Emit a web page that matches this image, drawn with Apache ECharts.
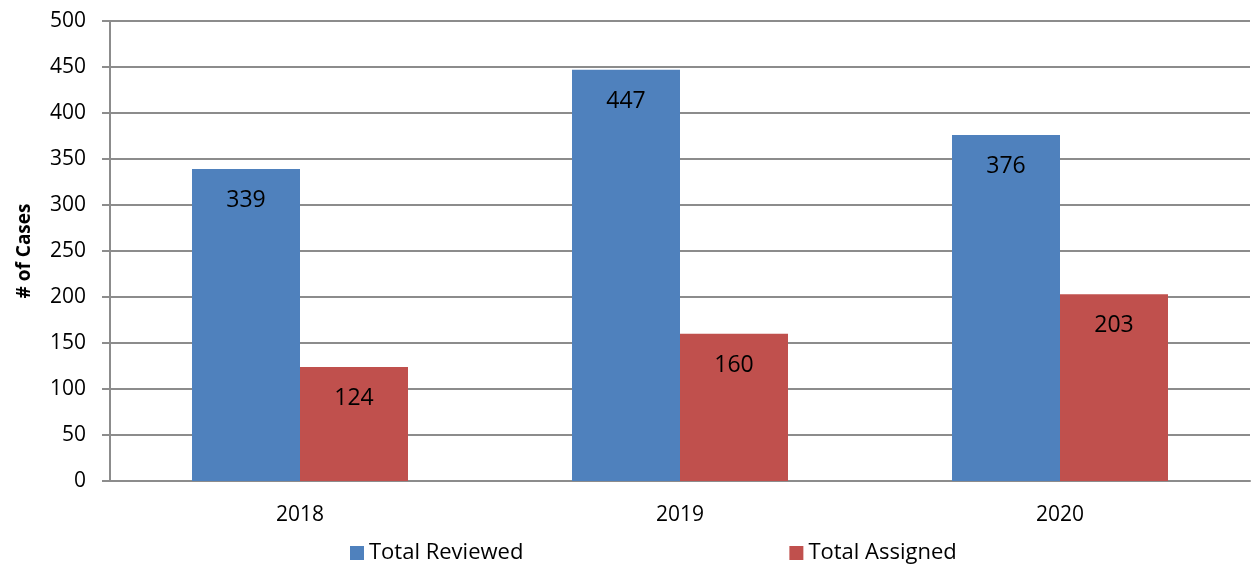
<!DOCTYPE html>
<html>
<head>
<meta charset="utf-8">
<script src="https://cdn.jsdelivr.net/npm/echarts@6/dist/echarts.min.js"></script>
<style>
  html, body { margin: 0; padding: 0; background: #fff; }
  #chart { width: 1256px; height: 564px; }
</style>
</head>
<body>
<div id="chart"></div>
<script>
// data
const years = ['2018', '2019', '2020']
const totalReviewed = [339, 447, 376]
const totalAssigned = [124, 160, 203]

const myChart = echarts.init(document.getElementById('chart'))

const labelStyle = {
  show: true,
  position: 'insideTop',
  distance: 20,
  color: '#000',
  fontSize: 23,
  fontFamily: 'Open Sans'
}

const option = {
  backgroundColor: '#fff',
  textStyle: { fontFamily: 'Open Sans' },
  animation: false,
  grid: {
    left: 110,
    right: 6,
    top: 21,
    bottom: 83
  },
  legend: {
    top: 537,
    left: 345,
    itemWidth: 14,
    itemHeight: 14,
    itemGap: 266,
    icon: 'rect',
    textStyle: { color: '#000', fontSize: 22 },
    data: ['Total Reviewed', 'Total Assigned']
  },
  xAxis: {
    type: 'category',
    data: years,
    axisLine: { lineStyle: { color: '#8c8c8c', width: 2 } },
    axisTick: { show: false },
    axisLabel: { color: '#000', fontSize: 21, margin: 24 }
  },
  yAxis: {
    type: 'value',
    min: 0,
    max: 500,
    interval: 50,
    name: '# of Cases',
    nameLocation: 'middle',
    nameGap: 76,
    nameTextStyle: { color: '#000', fontSize: 19, fontWeight: 'bold' },
    axisLine: { show: true, lineStyle: { color: '#8c8c8c', width: 2 } },
    axisTick: { show: true, length: 8, lineStyle: { color: '#8c8c8c', width: 2 } },
    axisLabel: { color: '#000', fontSize: 21, margin: 24 },
    splitLine: { lineStyle: { color: '#8c8c8c', width: 2 } }
  },
  series: [
    {
      name: 'Total Reviewed',
      type: 'bar',
      data: totalReviewed,
      barWidth: 108,
      barGap: '0%',
      itemStyle: { color: '#4f81bd' },
      label: labelStyle
    },
    {
      name: 'Total Assigned',
      type: 'bar',
      data: totalAssigned,
      barWidth: 108,
      barGap: '0%',
      itemStyle: { color: '#c0504d' },
      label: labelStyle
    }
  ]
}

myChart.setOption(option)
</script>
</body>
</html>
